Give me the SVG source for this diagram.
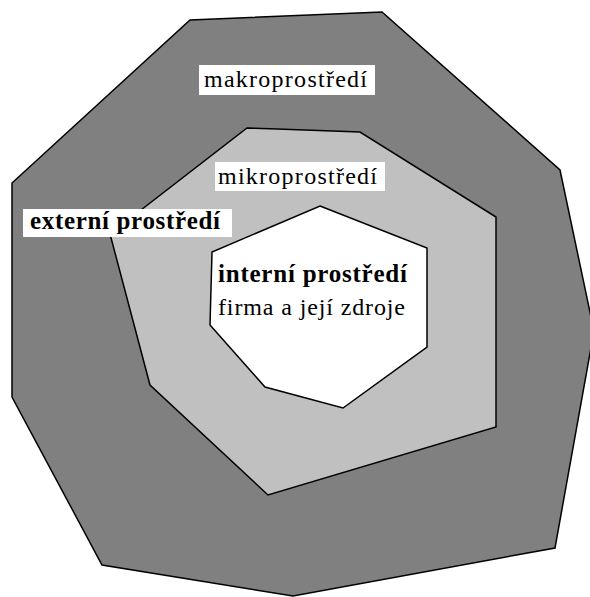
<svg xmlns="http://www.w3.org/2000/svg" width="590" height="597" viewBox="0 0 590 597">
<style>
.zone{stroke:#000;stroke-width:1.5;stroke-linejoin:miter}
.box{fill:#fff}
.t{font-family:"Liberation Serif","Times New Roman",serif;font-size:24px;fill:#000}
.b{font-weight:bold;font-size:25px}
</style>
<rect width="590" height="597" fill="#fff"/>
<g id="makro">
<polygon class="zone" fill="#808080" points="190,20 382,12 560,170 594,331 555,548 293,596 102,565 12,397 12,183"/>
<rect class="box" x="199" y="65" width="176" height="30"/>
<text class="t" x="204" y="87" textLength="163" lengthAdjust="spacing">makroprostředí</text>
</g>
<g id="mikro">
<polygon class="zone" fill="#c0c0c0" points="247,128 277,129 360,132 496,217 496,427 268,495 150,385 110,234"/>
<rect class="box" x="215" y="162" width="170" height="29"/>
<text class="t" x="218" y="184" textLength="159" lengthAdjust="spacing">mikroprostředí</text>
</g>
<g id="externi">
<rect class="box" x="23" y="209" width="209" height="28"/>
<text class="t b" x="30" y="229" textLength="190" lengthAdjust="spacing">externí prostředí</text>
</g>
<g id="interni">
<polygon class="zone" fill="#fff" points="320,206 427,248 427,347 343,408 265,387 210,325 212,252"/>
<text class="t b" x="218" y="282" textLength="189" lengthAdjust="spacing">interní prostředí</text>
<text class="t" x="218" y="315" textLength="187" lengthAdjust="spacing">firma a její zdroje</text>
</g>
<g id="connectors"></g>
</svg>
